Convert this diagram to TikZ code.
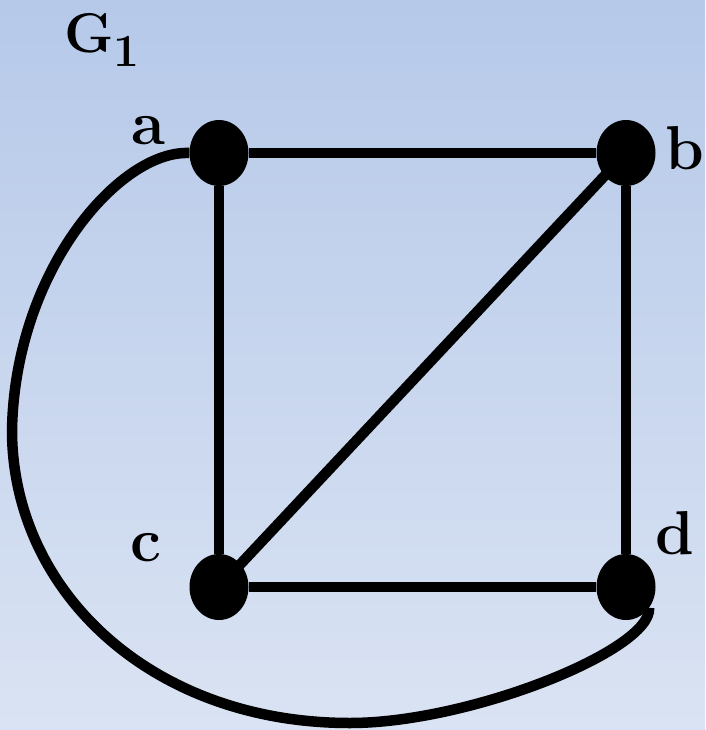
\documentclass[tikz,border=0pt]{standalone}
\usepackage{tikz}
\usetikzlibrary{positioning, shapes.geometric, backgrounds, calc}

\definecolor{bgtop}{RGB}{182,201,233}
\definecolor{bgbot}{RGB}{218,227,243}

\begin{document}
\begin{tikzpicture}[
        x=1pt, y=-1pt,
        vertex/.style = {ellipse, fill=black, draw=none, inner sep=0pt, minimum width=59pt, minimum height=66pt},
        edge/.style = {line width=10.5pt, draw=black},
        lbl/.style = {font=\fontsize{62}{70}\selectfont\bfseries, inner sep=0pt}
      ]

      % ================= CSUCSOK =================
      \node[vertex] (a) at (219,153) {};
      \node[vertex] (b) at (626,153) {};
      \node[vertex] (c) at (219,587) {};
      \node[vertex] (d) at (626,587) {};

      % Cimkek
      \node[lbl] (la) at (148,131) {a};
      \node[lbl] (lb) at (685,148) {b};
      \node[lbl] (lc) at (146,548) {c};
      \node[lbl] (ld) at (675,533) {d};
      \node[font=\fontsize{56}{64}\selectfont\bfseries, inner sep=0pt, anchor=base west] (g1) at (64,53)
        {G\raisebox{-14pt}{\fontsize{46}{50}\selectfont 1}};

      % ================= HATTER ES ELEK =================
      \begin{scope}[on background layer]
        \useasboundingbox (0,0) rectangle (705,730);
        \fill[top color=bgtop, bottom color=bgbot] (0,0) rectangle (705,730);

        \draw[edge] (a) -- (b);
        \draw[edge] (a) -- (c);
        \draw[edge] (b.center) -- (c.center);
        \draw[edge] (b) -- (d);
        \draw[edge] (c) -- (d);

        % Ives el a-tol d-ig
        \coordinate (left-pt) at (12,430);
        \coordinate (bot-pt) at (350,723);
        \draw[edge] (a.west) .. controls (120,150) and (15,270) .. (left-pt)
                    .. controls (12,590) and (150,723) .. (bot-pt)
                    .. controls (470,723) and (652,650) .. (d.-42);
      \end{scope}

    \end{tikzpicture}
\end{document}
